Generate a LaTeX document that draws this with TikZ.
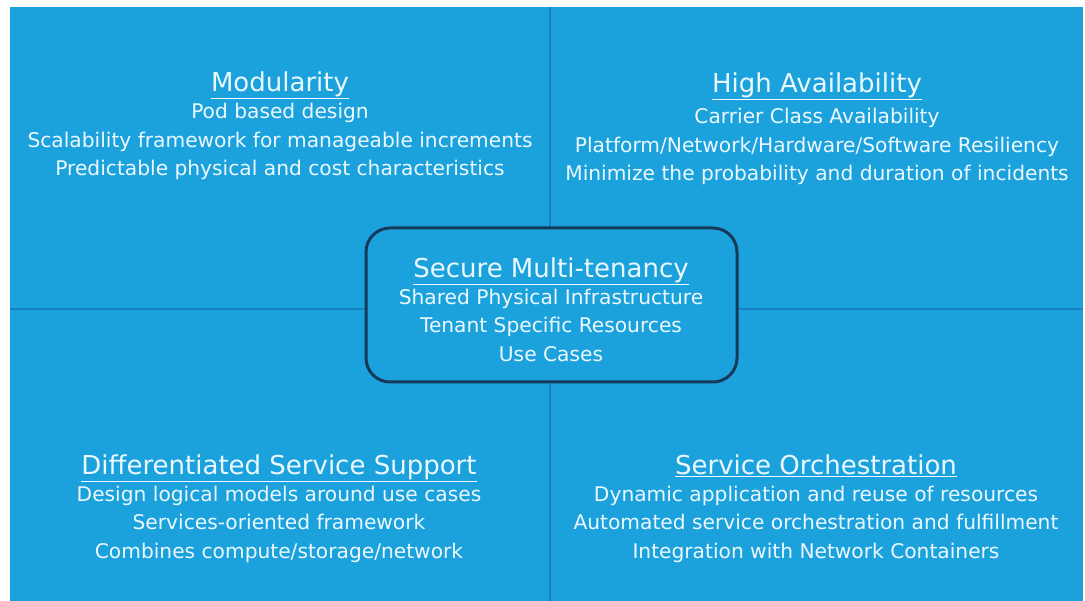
\documentclass[tikz,border=0pt]{standalone}
\usepackage{fontspec}
\setmainfont{DejaVu Sans}
\usepackage{tikz}
\usetikzlibrary{calc}

\definecolor{PanelBlue}{RGB}{27,162,221}
\definecolor{SplitBlue}{RGB}{22,128,188}
\definecolor{BoxEdge}{RGB}{22,58,90}
\definecolor{PaleText}{RGB}{236,248,255}

\tikzset{
  title/.style={text=PaleText, inner sep=0pt, font=\fontsize{26}{30}\selectfont},
  body/.style={text=PaleText, inner sep=0pt, align=center, font=\fontsize{20.2}{28.5}\selectfont},
  hub/.style={draw=BoxEdge, line width=3pt, fill=PanelBlue, rounded corners=24pt}
}

\begin{document}
\begin{tikzpicture}[x=1pt, y=-1pt]

    \useasboundingbox (0,0) rectangle (1085,601);

    %Background panel
    \fill[white] (0,0) rectangle (1085,601);
    \fill[PanelBlue] (10,7) rectangle (1083,601);

    %Quadrant split lines
    \draw[SplitBlue, line width=1.5pt] (550,7) -- (550,601);  %Vertical
    \draw[SplitBlue, line width=1.5pt] (10,309) -- (1083,309); %Horizontal

    %Top left
    \node[title] (modtitle) at (280,85) {\underline{Modularity}};
    \node[body, anchor=north] (modbody) at (280,103) {Pod based design\\Scalability framework for manageable increments\\Predictable physical and cost characteristics};

    %Top right
    \node[title] (hatitle) at (817,86) {\underline{High Availability}};
    \node[body, anchor=north] (habody) at (817,108) {Carrier Class Availability\\Platform/Network/Hardware/Software Resiliency\\Minimize the probability and duration of incidents};

    %Center box
    \draw[hub] (366,228) rectangle (737,382);
    \node[title] (smttitle) at (551,271) {\underline{Secure Multi-tenancy}};
    \node[body, anchor=north] (smtbody) at (551,288.5) {Shared Physical Infrastructure\\Tenant Specific Resources\\Use Cases};

    %Lower left
    \node[title] (dsstitle) at (279,468) {\underline{Differentiated Service Support}};
    \node[body, anchor=north] (dssbody) at (279,485.5) {Design logical models around use cases\\Services-oriented framework\\Combines compute/storage/network};

    %Lower right
    \node[title] (sotitle) at (816,466) {\underline{Service Orchestration}};
    \node[body, anchor=north] (sobody) at (816,485.5) {Dynamic application and reuse of resources\\Automated service orchestration and fulfillment\\Integration with Network Containers};

\end{tikzpicture}
\end{document}
